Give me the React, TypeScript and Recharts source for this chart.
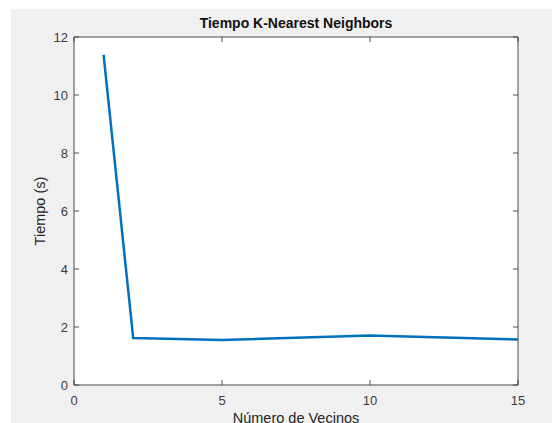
import React from "react";
import { LineChart, Line, XAxis, YAxis } from "recharts";

// Number of neighbours (k) and the measured time in seconds
const neighbors = [1, 2, 5, 10, 15];
const times = [11.38, 1.62, 1.55, 1.71, 1.57];

const xTicks = [0, 5, 10, 15];
const yTicks = [0, 2, 4, 6, 8, 10, 12];

const data = neighbors.map((k, i) => ({ k, t: times[i] }));

const AXIS = "#4a4a4a";
const TEXT = "#3c3c3c";
const FONT = "'Liberation Sans', Arial, Helvetica, sans-serif";
const TICK_LEN = 5;

// Ticks point into the plot box, MATLAB style; labels only on bottom/left.
const BottomTick = (props: any) => {
  const { x, y, payload } = props;
  return (
    <g>
      <line x1={x} x2={x} y1={y} y2={y - TICK_LEN} stroke={AXIS} strokeWidth={1} />
      <text x={x} y={y + 20} textAnchor="middle" fontSize={13} fill={TEXT} fontFamily={FONT}>
        {payload.value}
      </text>
    </g>
  );
};

const TopTick = (props: any) => {
  const { x, y } = props;
  return <line x1={x} x2={x} y1={y} y2={y + TICK_LEN} stroke={AXIS} strokeWidth={1} />;
};

const LeftTick = (props: any) => {
  const { x, y, payload } = props;
  return (
    <g>
      <line x1={x} x2={x + TICK_LEN} y1={y} y2={y} stroke={AXIS} strokeWidth={1} />
      <text x={x - 6} y={y + 4.5} textAnchor="end" fontSize={13} fill={TEXT} fontFamily={FONT}>
        {payload.value}
      </text>
    </g>
  );
};

const RightTick = (props: any) => {
  const { x, y } = props;
  return <line x1={x} x2={x - TICK_LEN} y1={y} y2={y} stroke={AXIS} strokeWidth={1} />;
};

export default function App() {
  return (
    <div
      style={{
        position: "absolute",
        left: 0,
        top: 0,
        width: 552,
        height: 423,
        background: "#ffffff",
        overflow: "hidden",
        fontFamily: FONT,
      }}
    >
      <div
        style={{
          position: "absolute",
          left: 11,
          top: 9,
          width: 541,
          height: 414,
          background: "#f0f0f0",
        }}
      >
        <div
          style={{
            position: "absolute",
            left: 63,
            top: 28,
            width: 444,
            height: 348,
            background: "#ffffff",
          }}
        />
        <LineChart
          width={541}
          height={414}
          data={data}
          margin={{ top: 27, right: 33, bottom: 18, left: 23 }}
          style={{ position: "absolute", left: 0, top: 0 }}
        >
          <XAxis
            dataKey="k"
            type="number"
            domain={[0, 15]}
            ticks={xTicks}
            allowDataOverflow
            height={20}
            tickSize={0}
            tickMargin={0}
            tickLine={false}
            axisLine={{ stroke: AXIS, strokeWidth: 1 }}
            tick={<BottomTick />}
            interval={0}
          />
          <XAxis
            xAxisId="top"
            orientation="top"
            dataKey="k"
            type="number"
            domain={[0, 15]}
            ticks={xTicks}
            allowDataOverflow
            height={1}
            tickSize={0}
            tickMargin={0}
            tickLine={false}
            axisLine={{ stroke: AXIS, strokeWidth: 1 }}
            tick={<TopTick />}
            interval={0}
          />
          <YAxis
            type="number"
            domain={[0, 12]}
            ticks={yTicks}
            allowDataOverflow
            width={40}
            tickSize={0}
            tickMargin={0}
            tickLine={false}
            axisLine={{ stroke: AXIS, strokeWidth: 1 }}
            tick={<LeftTick />}
            interval={0}
          />
          <YAxis
            yAxisId="right"
            orientation="right"
            type="number"
            domain={[0, 12]}
            ticks={yTicks}
            allowDataOverflow
            width={1}
            tickSize={0}
            tickMargin={0}
            tickLine={false}
            axisLine={{ stroke: AXIS, strokeWidth: 1 }}
            tick={<RightTick />}
            interval={0}
          />
          <Line
            dataKey="t"
            type="linear"
            stroke="#0072BD"
            strokeWidth={2.5}
            dot={false}
            activeDot={false}
            isAnimationActive={false}
          />
        </LineChart>
        <div
          style={{
            position: "absolute",
            left: 63,
            width: 444,
            top: 6,
            textAlign: "center",
            fontWeight: "bold",
            fontSize: 14,
            color: "#111111",
            lineHeight: "16px",
            whiteSpace: "nowrap",
          }}
        >
          Tiempo K-Nearest Neighbors
        </div>
        <div
          style={{
            position: "absolute",
            left: 63,
            width: 444,
            top: 401,
            textAlign: "center",
            fontSize: 14.5,
            color: "#262626",
            lineHeight: "17px",
            whiteSpace: "nowrap",
          }}
        >
          Número de Vecinos
        </div>
        <div
          style={{
            position: "absolute",
            left: 29 - 60,
            top: 202 - 9,
            width: 120,
            height: 18,
            lineHeight: "18px",
            textAlign: "center",
            fontSize: 14.5,
            color: "#262626",
            transform: "rotate(-90deg)",
            whiteSpace: "nowrap",
          }}
        >
          Tiempo (s)
        </div>
      </div>
    </div>
  );
}
